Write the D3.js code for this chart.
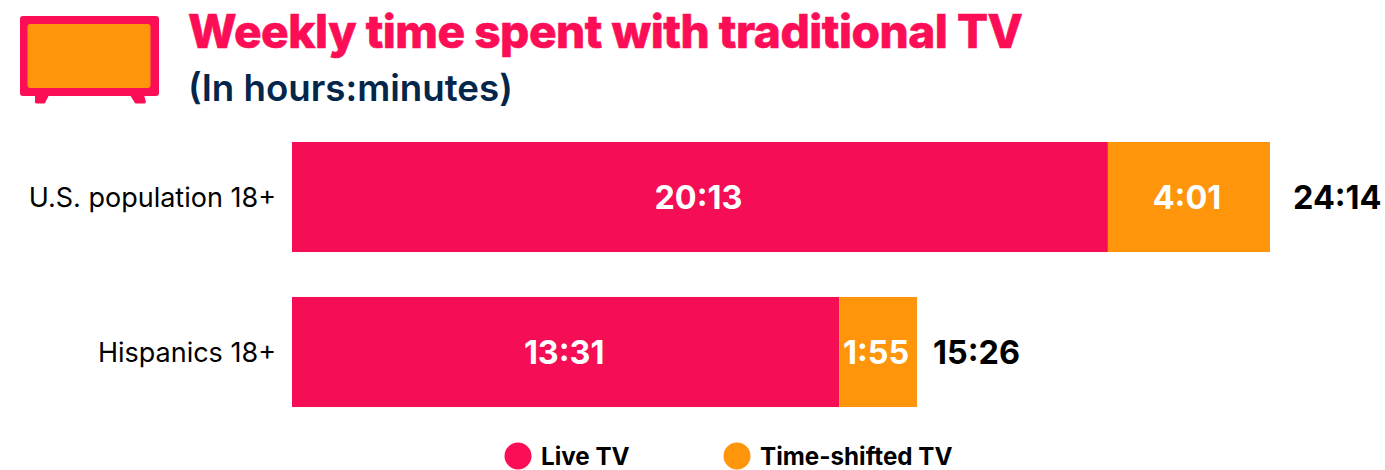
<!DOCTYPE html>
<html lang="en">
<head>
<meta charset="UTF-8">
<title>Weekly time spent with traditional TV</title>
<script src="https://d3js.org/d3.v7.min.js"></script>
<style>
html, body { margin: 0; padding: 0; background: #fff; }
svg { display: block; font-family: Inter, sans-serif; }
</style>
</head>
<body>
<div id="chart"></div>
<script>
// values as printed on the chart, h:mm
var categories = ["U.S. population 18+", "Hispanics 18+"];
var seriesNames = ["Live TV", "Time-shifted TV"];
var liveTV = ["20:13", "13:31"];
var timeShifted = ["4:01", "1:55"];
var totals = ["24:14", "15:26"];

var pink = "#fb0e56", barPink = "#f50d55", orange = "#ff950a", navy = "#03264a";
var width = 1385, height = 470;

function minutes(s) {
    var p = s.split(":");
    return +p[0] * 60 + +p[1];
}

var svg = d3.select("#chart").append("svg")
    .attr("width", width)
    .attr("height", height);

// the bars in the source are not quite on one scale, so each row gets its own
var barEnd = d3.scaleOrdinal().domain(categories).range([1270, 917]);
var totalX = d3.scaleOrdinal().domain(categories).range([1293, 933]);
function xScale(d) {
    return d3.scaleLinear().domain([0, minutes(d.total)]).range([292, barEnd(d.cat)]);
}
var yScale = d3.scaleBand()
    .domain(categories)
    .range([119.5, 429.5])
    .paddingInner(0.29)
    .paddingOuter(0.145);

// tv icon
var icon = svg.append("g");
icon.append("rect").attr("x", 20).attr("y", 16).attr("width", 139).attr("height", 80).attr("rx", 3).attr("fill", pink);
icon.append("rect").attr("x", 27.5).attr("y", 24).attr("width", 123).attr("height", 64).attr("rx", 3).attr("fill", orange);
icon.append("path").attr("d", "M35 95h14l-3.5 7q-.5 1.500-2 1.500h-7q-2 0-1.500-2z").attr("fill", pink);
icon.append("path").attr("d", "M130 95h14l1.800 6.500q.5 2-1.500 2h-8q-1.500 0-2-1.500z").attr("fill", pink);

// title
svg.append("text").attr("x", 188).attr("y", 48)
    .attr("font-size", 46).attr("font-weight", 800).attr("fill", pink)
    .attr("stroke", pink).attr("stroke-width", 0.6)
    .attr("textLength", 835).attr("lengthAdjust", "spacing")
    .text("Weekly time spent with traditional TV");
svg.append("text").attr("x", 188).attr("y", 101)
    .attr("font-size", 36.7).attr("font-weight", 600).attr("fill", navy)
    .text("(In hours:minutes)");

// bars
var rows = categories.map(function(c, i) {
    return {cat: c, live: liveTV[i], shifted: timeShifted[i], total: totals[i]};
});
var row = svg.selectAll("g.row").data(rows).enter().append("g").attr("class", "row");

row.append("rect")
    .attr("x", function(d) { return xScale(d)(0); })
    .attr("y", function(d) { return yScale(d.cat); })
    .attr("width", function(d) { return xScale(d)(minutes(d.live)) - xScale(d)(0); })
    .attr("height", yScale.bandwidth())
    .attr("fill", barPink);
row.append("rect")
    .attr("x", function(d) { return xScale(d)(minutes(d.live)); })
    .attr("y", function(d) { return yScale(d.cat); })
    .attr("width", function(d) { return xScale(d)(minutes(d.shifted)) - xScale(d)(0); })
    .attr("height", yScale.bandwidth())
    .attr("fill", orange);

function midY(d) { return yScale(d.cat) + yScale.bandwidth() / 2 + 12; }

row.append("text")
    .attr("x", 276)
    .attr("y", function(d) { return midY(d) - 2; })
    .attr("text-anchor", "end")
    .attr("font-size", 27).attr("font-weight", 400).attr("fill", "#000")
    .text(function(d) { return d.cat; });
row.append("text")
    .attr("x", function(d) { return xScale(d)(minutes(d.live) / 2) - 1.5; })
    .attr("y", midY)
    .attr("text-anchor", "middle")
    .attr("font-size", 32.4).attr("font-weight", 700).attr("fill", "#fff")
    .text(function(d) { return d.live; });
row.append("text")
    .attr("x", function(d) { return xScale(d)(minutes(d.live) + minutes(d.shifted) / 2) - 2; })
    .attr("y", midY)
    .attr("text-anchor", "middle")
    .attr("font-size", 32.4).attr("font-weight", 700).attr("fill", "#fff")
    .text(function(d) { return d.shifted; });
row.append("text")
    .attr("x", function(d) { return totalX(d.cat); })
    .attr("y", midY)
    .attr("font-size", 32.4).attr("font-weight", 700).attr("fill", "#000")
    .text(function(d) { return d.total; });

// legend
var legendX = d3.scaleOrdinal().domain(seriesNames).range([518, 737]);
var legendColor = d3.scaleOrdinal().domain(seriesNames).range([pink, orange]);
var legend = svg.selectAll("g.legend").data(seriesNames).enter().append("g").attr("class", "legend");
legend.append("circle")
    .attr("cx", function(d) { return legendX(d); })
    .attr("cy", 456)
    .attr("r", 13.500)
    .attr("fill", function(d) { return legendColor(d); });
legend.append("text")
    .attr("x", function(d) { return legendX(d) + 23; })
    .attr("y", 465)
    .attr("font-size", 24.2).attr("font-weight", 700).attr("fill", "#000")
    .text(function(d) { return d; });
</script>
</body>
</html>
